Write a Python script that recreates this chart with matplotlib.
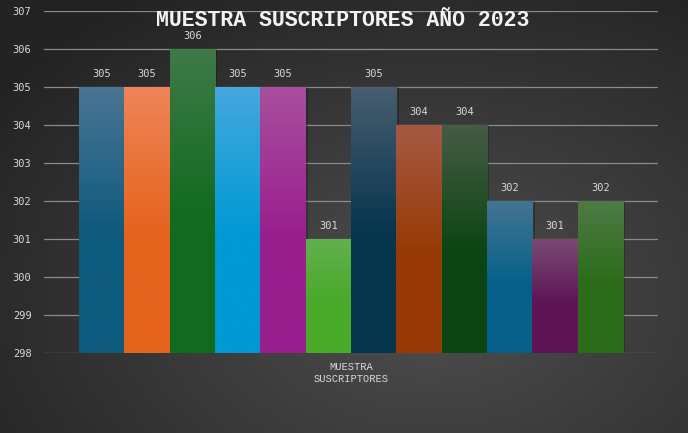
import numpy as np
import matplotlib.pyplot as plt
import matplotlib.colors as mcolors

# data
values = [305, 305, 306, 305, 305, 301, 305, 304, 304, 302, 301, 302]
top_colors = ['#4a7593', '#ef8558', '#3e7a48', '#45a8de', '#a8509f', '#62b04e',
              '#485d6f', '#a65a44', '#455c45', '#437590', '#7a4a73', '#4e7a45']
bottom_colors = ['#0e5a7e', '#e5631d', '#116b1f', '#0099d4', '#9a1f8e', '#4aaa2a',
                 '#06354e', '#983a06', '#0c4513', '#05608a', '#5e1556', '#2b6b1a']
yticks = list(range(298, 308))
title = 'MUESTRA SUSCRIPTORES AÑO 2023'
xlabel = 'MUESTRA\nSUSCRIPTORES'

fig = plt.figure(figsize=(6.88, 4.33), dpi=100)

# radial background
bg = fig.add_axes([0, 0, 1, 1])
yy, xx = np.mgrid[0:433, 0:688]
r = np.sqrt(((xx - 430) / 520.0) ** 2 + ((yy - 300) / 360.0) ** 2)
r = np.clip(r, 0, 1)
shade = 0.31 - 0.17 * r
bg.imshow(np.dstack([shade] * 3), extent=[0, 1, 0, 1], aspect='auto', origin='upper')
bg.axis('off')

ax = fig.add_axes([44 / 688, 1 - 353 / 433, 614 / 688, 342 / 433])
ax.patch.set_alpha(0)
pad = 35 / (544 / 12)

for y in yticks:
    ax.axhline(y, color='#8a8a8a', lw=0.9, zorder=1)

x = np.arange(len(values))
bars = ax.bar(x, np.array(values) - 298, bottom=298, width=1.0, color='none', zorder=3)
for i, b in enumerate(bars):
    # soft shadow on the right
    ax.bar(x[i] + 0.05, values[i] - 298, bottom=298, width=1.0, color='black',
           alpha=0.22, zorder=2)
    cmap = mcolors.LinearSegmentedColormap.from_list(
        'g', [(0, bottom_colors[i]), (0.45, bottom_colors[i]), (1, top_colors[i])])
    grad = np.linspace(0, 1, 256).reshape(-1, 1)
    im = ax.imshow(grad, cmap=cmap, origin='lower', aspect='auto',
                   extent=[x[i] - 0.5, x[i] + 0.5, 298, values[i]], zorder=3)
    im.set_clip_path(b)
    ax.text(x[i], values[i] + 0.22, str(values[i]), ha='center', va='bottom',
            color='#d9d9d9', fontsize=7.5, family='DejaVu Sans Mono')

ax.set_xlim(-0.5 - pad, len(values) - 0.5 + pad)
ax.set_ylim(298, 307)
ax.set_yticks(yticks)
ax.set_yticklabels([str(v) for v in yticks], color='#d9d9d9', fontsize=7.5,
                   family='DejaVu Sans Mono')
ax.tick_params(axis='y', length=0, pad=9)
ax.set_xticks([])
for s in ax.spines.values():
    s.set_visible(False)

fig.text(343 / 688, 1 - 20 / 433, title, ha='center', va='center',
         color='#f2f2f2', fontsize=15.5, fontweight='bold', family='Liberation Mono')
fig.text(351 / 688, 1 - 373 / 433, xlabel, ha='center', va='center',
         color='#d9d9d9', fontsize=7.5, family='Liberation Mono', linespacing=1.2)

fig.savefig('out.png', dpi=100)
